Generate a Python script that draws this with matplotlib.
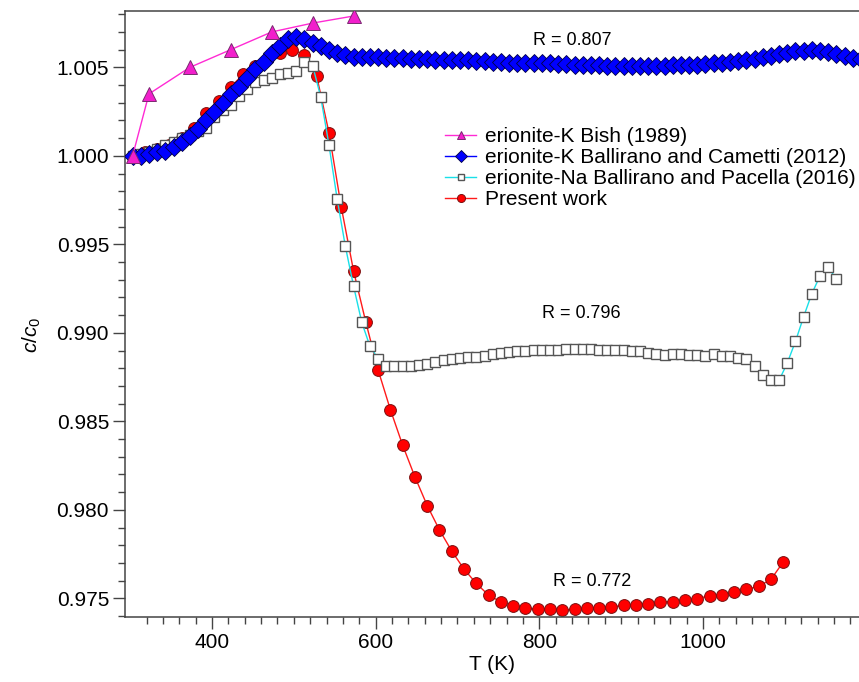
import numpy as np
import matplotlib
matplotlib.use("Agg")
import matplotlib.pyplot as plt
from matplotlib.ticker import FixedLocator, MultipleLocator, FormatStrFormatter

plt.rcParams['font.family'] = ['Liberation Sans', 'DejaVu Sans']
plt.rcParams['mathtext.fontset'] = 'custom'
plt.rcParams['mathtext.it'] = 'Liberation Sans:italic'
plt.rcParams['mathtext.rm'] = 'Liberation Sans'

# erionite-K, Bish (1989)
t_bish = [303, 323, 373, 423, 473, 523, 573]
c_bish = [1.0000, 1.0035, 1.0050, 1.0060, 1.0070, 1.0075, 1.0079]

# erionite-K, Ballirano and Cametti (2012)
t_bc = list(range(303, 1194, 10))
c_bc = [1.0000, 1.0000, 1.0001, 1.0002, 1.0003, 1.0005, 1.0008, 1.0011, 1.0015, 1.0020,
        1.0025, 1.0030, 1.0035, 1.0039, 1.0044, 1.0049, 1.0053, 1.0058, 1.0062, 1.0066,
        1.0067, 1.0066, 1.0064, 1.0062, 1.0060, 1.0058, 1.0057, 1.0056, 1.0056, 1.0056,
        1.00557, 1.00555, 1.00552, 1.00550, 1.00548, 1.00547, 1.00545, 1.00543, 1.00542, 1.00541,
        1.00540, 1.00539, 1.00538, 1.00535, 1.00532, 1.00528, 1.00526, 1.00525, 1.00525, 1.00525,
        1.00524, 1.00522, 1.00520, 1.00517, 1.00515, 1.00513, 1.00512, 1.00511, 1.00510, 1.00510,
        1.00510, 1.00510, 1.00510, 1.00510, 1.00510, 1.00510, 1.00511, 1.00512, 1.00514, 1.00516,
        1.00519, 1.00522, 1.00526, 1.00530, 1.00535, 1.00540, 1.00548, 1.00556, 1.00565, 1.00575,
        1.00583, 1.00590, 1.00595, 1.00597, 1.00594, 1.00588, 1.00578, 1.00566, 1.00555, 1.00545]

# erionite-Na, Ballirano and Pacella (2016)
t_bp = list(range(303, 1164, 10))
c_bp = [1.0000, 1.0001, 1.0002, 1.0004, 1.0006, 1.0008, 1.0010, 1.0012, 1.0014, 1.0016,
        1.0022, 1.0026, 1.0029, 1.0034, 1.0038, 1.0042, 1.0043, 1.0044, 1.0046, 1.0047,
        1.0048, 1.0053, 1.0051, 1.0033, 1.0006, 0.99755, 0.99488, 0.99264, 0.99060, 0.98924,
        0.98853, 0.98815, 0.98811, 0.98811, 0.98811, 0.98820, 0.98826, 0.98835, 0.98845, 0.98853,
        0.98860, 0.98864, 0.98866, 0.98871, 0.98883, 0.98888, 0.98890, 0.98895, 0.98900, 0.98905,
        0.98905, 0.98905, 0.98905, 0.98910, 0.98911, 0.98911, 0.98911, 0.98905, 0.98901, 0.98901,
        0.98901, 0.98900, 0.98895, 0.98887, 0.98880, 0.98877, 0.98883, 0.98883, 0.98875, 0.98875,
        0.98871, 0.98883, 0.98871, 0.98871, 0.98860, 0.98853, 0.98811, 0.98764, 0.98732, 0.98732,
        0.98830, 0.98952, 0.99092, 0.99222, 0.99322, 0.99372, 0.99302]

# present work
t_pw = list(range(303, 1099, 15))
c_pw = [1.0000, 1.0002, 1.0004, 1.0006, 1.0010, 1.0016, 1.0024, 1.0031, 1.0039, 1.0046,
        1.0051, 1.0055, 1.0058, 1.0060, 1.0057, 1.0045, 1.0013, 0.9971, 0.9935, 0.9906,
        0.9879, 0.98566, 0.98365, 0.98186, 0.98024, 0.97886, 0.97767, 0.97665, 0.97584, 0.97518,
        0.97480, 0.97458, 0.97445, 0.97437, 0.97437, 0.97433, 0.97437, 0.97446, 0.97448, 0.97452,
        0.97460, 0.97465, 0.97467, 0.97479, 0.97482, 0.97490, 0.97497, 0.97516, 0.97520, 0.97533,
        0.97550, 0.97568, 0.97607, 0.97705]

fig = plt.figure(figsize=(8.59, 6.82), dpi=100)
ax = fig.add_axes([0.1455, 0.0949, 0.8545, 0.8894])

l_pw, = ax.plot(t_pw, c_pw, '-o', color='#ff1a1a', lw=1.0, ms=8.5,
                mfc='#ff0000', mec='#7a1010', mew=0.7, zorder=2, label='Present work')
l_bp, = ax.plot(t_bp, c_bp, '-s', color='#19e0e8', lw=1.0, ms=7.4,
                mfc='white', mec='#555555', mew=1.0, zorder=3,
                label='erionite-Na Ballirano and Pacella (2016)')
l_bc, = ax.plot(t_bc, c_bc, '-D', color='#0000ff', lw=1.0, ms=9.5,
                mfc='#0000ff', mec='#000044', mew=0.6, zorder=4,
                label='erionite-K Ballirano and Cametti (2012)')
l_bish, = ax.plot(t_bish, c_bish, '-^', color='#ff2ad4', lw=1.0, ms=9.5,
                  mfc='#f21fcc', mec='#7a2a70', mew=0.7, zorder=5,
                  label='erionite-K Bish (1989)')

ax.set_xlim(293.7, 1190.6)
ax.set_ylim(0.97393, 1.0082)

ax.xaxis.set_major_locator(FixedLocator([400, 600, 800, 1000]))
ax.xaxis.set_minor_locator(FixedLocator(list(range(320, 1200, 20))))
ax.yaxis.set_major_locator(MultipleLocator(0.005))
ax.yaxis.set_minor_locator(MultipleLocator(0.001))
ax.yaxis.set_major_formatter(FormatStrFormatter('%.3f'))

for side in ['left', 'bottom', 'top']:
    ax.spines[side].set_color('#444444')
    ax.spines[side].set_linewidth(1.1)
ax.spines['right'].set_visible(False)
ax.tick_params(which='major', direction='out', length=8.5, width=1.0, color='#444444',
               labelsize=15, pad=3)
ax.tick_params(which='minor', direction='out', length=4.8, width=1.0, color='#444444')
ax.tick_params(top=False, right=False)

ax.set_xlabel('T (K)', fontsize=15, labelpad=2)
ax.set_ylabel(r'$c/c_0$', fontsize=15)
ax.yaxis.set_label_coords(-0.112, 0.465)

ax.text(840, 1.00654, 'R = 0.807', fontsize=13, ha='center', va='center')
ax.text(851, 0.99110, 'R = 0.796', fontsize=13, ha='center', va='center')
ax.text(864, 0.97594, 'R = 0.772', fontsize=13, ha='center', va='center')

ax.legend(handles=[l_bish, l_bc, l_bp, l_pw], loc='upper left',
          bbox_to_anchor=(0.436, 0.808), frameon=False, fontsize=15,
          handlelength=1.5, handletextpad=0.4, labelspacing=0.1,
          markerscale=0.68, borderpad=0, borderaxespad=0)

fig.savefig('out.png', dpi=100)
